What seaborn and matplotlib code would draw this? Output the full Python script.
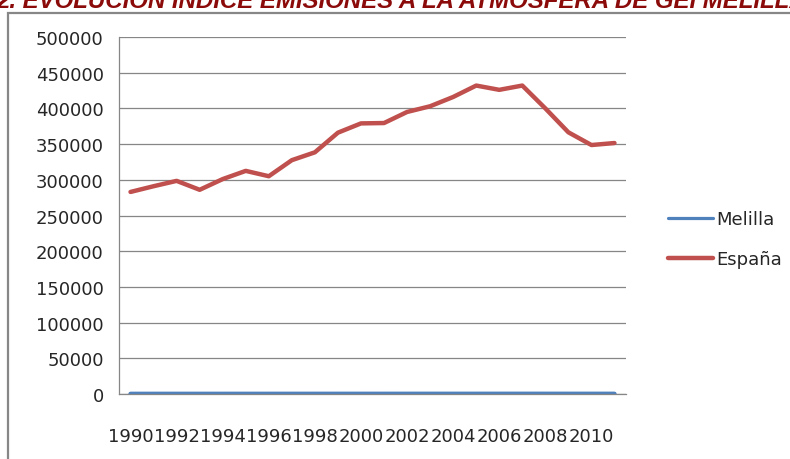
import numpy as np
import pandas as pd
import seaborn as sns
import matplotlib.pyplot as plt
from matplotlib.patches import Rectangle
from matplotlib.lines import Line2D

# Emisiones GEI (miles de t CO2-eq)
years = list(range(1990, 2012))
espana = [283000, 291000, 298500, 286000, 301000, 312500, 305000, 327500,
          338500, 366000, 379000, 379500, 395000, 403000, 416000, 432000,
          426000, 432000, 400000, 366500, 348700, 351500]
melilla = [180, 185, 190, 195, 200, 205, 210, 215, 220, 225, 230, 235,
           240, 245, 250, 255, 260, 262, 258, 250, 245, 240]

title_text = "2. EVOLUCIÓN ÍNDICE EMISIONES A LA ATMÓSFERA DE GEI MELILLA"
y_ticks = list(range(0, 500001, 50000))
x_labels = list(range(1990, 2011, 2))

df = pd.DataFrame({
    'year': years * 2,
    'value': melilla + espana,
    'serie': ['Melilla'] * len(years) + ['España'] * len(years),
})

sns.set_style('white')
plt.rcParams['font.family'] = ['DejaVu Sans']

fig = plt.figure(figsize=(7.9, 4.6), dpi=100)
ax = fig.add_axes([119 / 790, 65 / 460, 507 / 790, 357 / 460])

palette = {'Melilla': '#4F81BD', 'España': '#C0504D'}
sns.lineplot(data=df, x='year', y='value', hue='serie', palette=palette,
             linewidth=3.2, ax=ax, legend=False)

ax.set_xlim(1989.5, 2011.5)
ax.set_ylim(0, 500000)
ax.set_yticks(y_ticks)
ax.set_yticklabels([str(v) for v in y_ticks], fontsize=13)
ax.set_xticks(x_labels)
ax.set_xticklabels([str(v) for v in x_labels], fontsize=13)
ax.set_xticks(np.arange(1989.5, 2012, 1), minor=True)
ax.tick_params(axis='x', which='major', length=0, pad=24)
ax.tick_params(axis='x', which='minor', length=6, color='#868686', direction='out')
ax.tick_params(axis='y', length=6, color='#868686', direction='out', pad=5)
ax.set_xlabel('')
ax.set_ylabel('')

ax.yaxis.grid(True, color='#868686', linewidth=0.9)
ax.set_axisbelow(True)
for side in ['top', 'right']:
    ax.spines[side].set_visible(False)
for side in ['left', 'bottom']:
    ax.spines[side].set_color('#868686')
    ax.spines[side].set_linewidth(0.9)

# leyenda a la derecha, sin marco
handles = [Line2D([], [], color='#4F81BD', linewidth=2.3),
           Line2D([], [], color='#C0504D', linewidth=3.2)]
fig.legend(handles, ['Melilla', 'España'], loc='center left',
           bbox_to_anchor=(668 / 790, 0.478), frameon=False, fontsize=13,
           handlelength=2.5, handletextpad=0.15, labelspacing=1.2,
           borderpad=0, borderaxespad=0)

# marco exterior del grafico
fig.patches.append(Rectangle((7.5 / 790, -0.2), 1.2, 0.2 + 446 / 460,
                             transform=fig.transFigure, fill=False,
                             edgecolor='#878787', linewidth=1.6))

# titulo cortado en el borde superior, como en el original
fig.text(-0.004, 452 / 460, title_text, color='#8B0A0A', fontsize=17.3,
         fontweight='bold', fontstyle='italic', family=['Liberation Sans'],
         ha='left', va='baseline')

fig.savefig('out.png', dpi=100)
